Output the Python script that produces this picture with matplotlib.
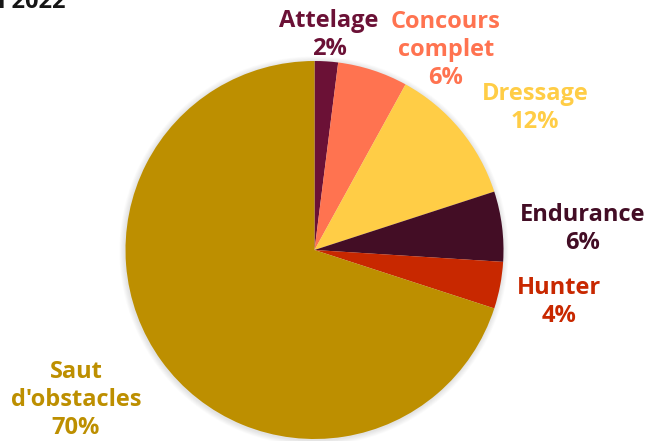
import matplotlib
matplotlib.use("Agg")
import matplotlib.pyplot as plt
from matplotlib.patches import Circle

# Data
categories = ["Attelage", "Concours\ncomplet", "Dressage", "Endurance", "Hunter", "Saut\nd'obstacles"]
values = [2, 6, 12, 6, 4, 70]
colors = ["#6B1136", "#FF7350", "#FFCD46", "#430D25", "#C82800", "#BD8F00"]

W, H = 647, 441
fig = plt.figure(figsize=(W / 100, H / 100), dpi=100)
ax = fig.add_axes([0, 0, 1, 1])

cx, cy, r = 314.5, H - 250, 189

# soft shadow
for i in range(7):
    ax.add_patch(Circle((cx - 0.5, cy - 1), r + 0.8 * (7 - i), color="black",
                        alpha=0.014, lw=0, zorder=1))

ax.pie(values, colors=colors, startangle=90, counterclock=False,
       center=(cx, cy), radius=r, frame=True,
       wedgeprops=dict(linewidth=0, zorder=2))
ax.set_xlim(0, W)
ax.set_ylim(0, H)
ax.set_aspect("equal")
ax.axis("off")

font = "Open Sans"
# label positions (pixel coords, top origin)
label_pos = [(329, 35), (446, 50), (535, 108), (583, 229), (559, 302), (76, 400)]
for name, v, c, (x, y) in zip(categories, values, colors, label_pos):
    ax.text(x, H - y, f"{name}\n{v}%", ha="center", va="center", color=c,
            fontsize=17, fontweight="bold", family=font, linespacing=1.24,
            zorder=5)

fig.text(65 / W, 1 - 7.5 / H, "Répartition des compétitions par discipline en 2022",
         ha="right", va="baseline", fontsize=17, fontweight="bold",
         family=font, color="#161616")

fig.savefig("out.png", dpi=100)
